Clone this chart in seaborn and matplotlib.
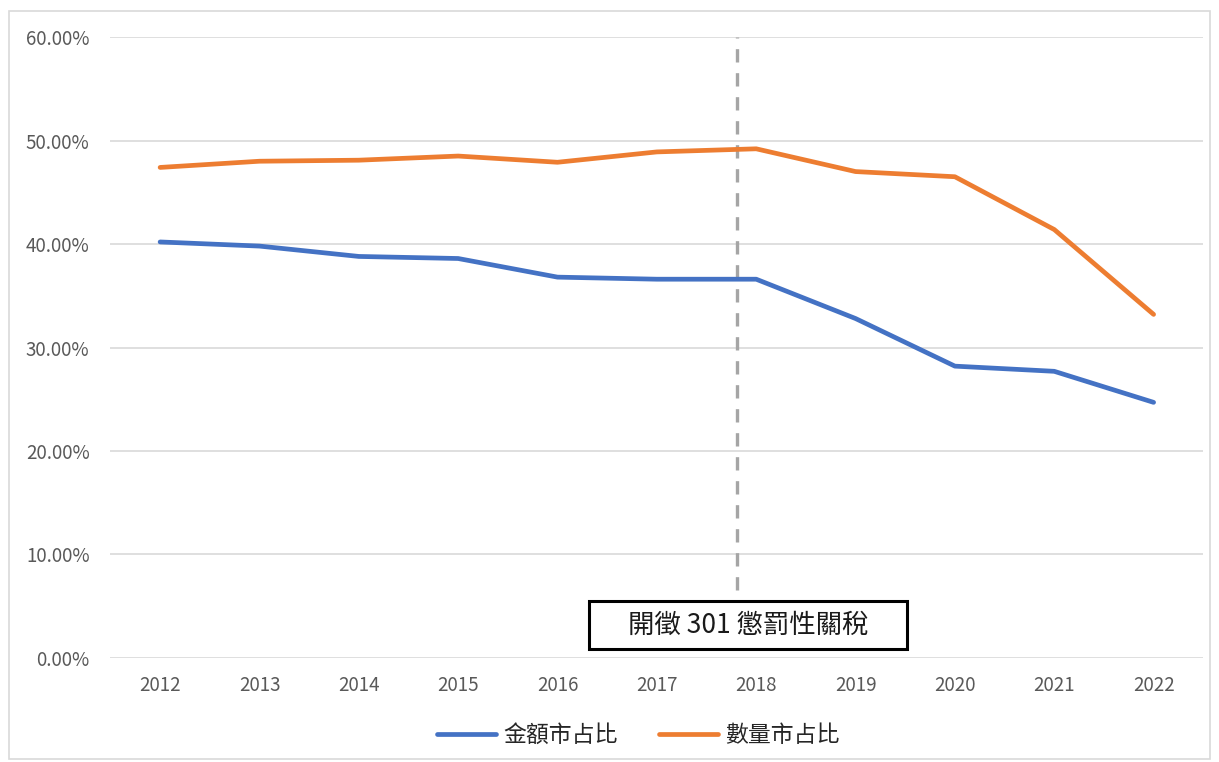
import pandas as pd
import seaborn as sns
import matplotlib.pyplot as plt
from matplotlib.patches import Rectangle
from matplotlib.ticker import FuncFormatter

years = ["2012", "2013", "2014", "2015", "2016", "2017",
         "2018", "2019", "2020", "2021", "2022"]
value_share = [40.2, 39.8, 38.8, 38.6, 36.8, 36.6, 36.6, 32.8, 28.2, 27.7, 24.7]
volume_share = [47.4, 48.0, 48.1, 48.5, 47.9, 48.9, 49.2, 47.0, 46.5, 41.4, 33.2]
series_names = ["金額市占比", "數量市占比"]
colors = ["#4472C4", "#ED7D31"]
note = "開徵 301 懲罰性關稅"

df = pd.DataFrame({
    "year": years * 2,
    "share": value_share + volume_share,
    "series": [series_names[0]] * len(years) + [series_names[1]] * len(years),
})

sns.set_theme(style="white")
plt.rcParams["font.family"] = ["Noto Sans CJK TC", "DejaVu Sans"]

fig = plt.figure(figsize=(12.19, 7.62), dpi=100)
ax = fig.add_axes([0.0906, 0.1365, 0.8965, 0.8149])

sns.lineplot(data=df, x="year", y="share", hue="series", palette=colors,
             linewidth=3.4, sort=False, ax=ax)

ax.set_xlim(-0.5, len(years) - 0.5)
ax.set_ylim(0, 60)
ax.set_yticks(range(0, 61, 10))
ax.yaxis.set_major_formatter(FuncFormatter(lambda v, p: f"{v:.2f}%"))
ax.grid(axis="y", color="#D9D9D9", linewidth=1.2)
ax.set_axisbelow(True)
for s in ax.spines.values():
    s.set_visible(False)
ax.tick_params(axis="both", length=0, labelsize=13.5, labelcolor="#595959")
ax.tick_params(axis="x", pad=12)
ax.tick_params(axis="y", pad=15)
ax.set_xlabel("")
ax.set_ylabel("")

# 301 tariff marker
ax.axvline(5.81, ymin=0.11, ymax=1.0, color="#A5A5A5", linewidth=2.4,
           dashes=(4, 3.2), zorder=1)
ax.add_patch(Rectangle((0.438, 0.0145), 0.291, 0.0775, transform=ax.transAxes,
                       facecolor="white", edgecolor="black", linewidth=2.2,
                       zorder=3, clip_on=False))
ax.text(0.5835, 0.053, note, transform=ax.transAxes, ha="center", va="center",
        fontsize=19, color="#1a1a1a", zorder=4)

leg = ax.legend(loc="upper center", bbox_to_anchor=(0.483, -0.073), ncol=2,
                frameon=False, fontsize=16.5, handlelength=2.6,
                columnspacing=1.8, handletextpad=0.3)
for line in leg.get_lines():
    line.set_linewidth(3.4)

fig.add_artist(Rectangle((0.007, 0.004), 0.986, 0.982, transform=fig.transFigure,
                         fill=False, edgecolor="#D9D9D9", linewidth=1.2))

fig.savefig("out.png", dpi=100)
